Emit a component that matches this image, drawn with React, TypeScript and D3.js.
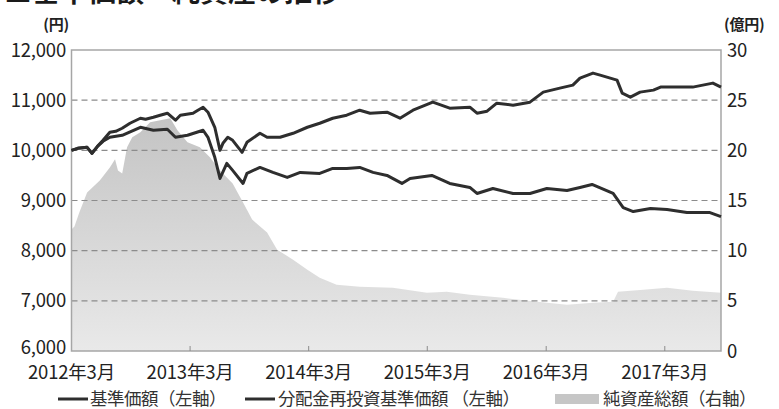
import { useRef, useEffect } from 'react';
import * as d3 from 'd3';

// 分配金再投資基準価額 (left axis, 円)
const reinvestDates = [
  '2012-03-01', '2012-03-20', '2012-04-18', '2012-05-03', '2012-05-20', '2012-06-06', '2012-06-27',
  '2012-07-15', '2012-08-04', '2012-08-28', '2012-09-29', '2012-10-15', '2012-11-08', '2012-11-29',
  '2012-12-21', '2013-01-15', '2013-01-30', '2013-03-10', '2013-03-25', '2013-04-10', '2013-04-25',
  '2013-05-16', '2013-06-01', '2013-06-10', '2013-06-25', '2013-07-10', '2013-08-08', '2013-08-23',
  '2013-10-02', '2013-10-24', '2013-12-03', '2014-01-12', '2014-02-25', '2014-04-04', '2014-05-14',
  '2014-06-26', '2014-08-05', '2014-09-06', '2014-10-28', '2014-12-07', '2015-01-16', '2015-03-18',
  '2015-05-09', '2015-07-10', '2015-08-01', '2015-09-01', '2015-10-01', '2015-11-20', '2016-01-11',
  '2016-02-21', '2016-04-12', '2016-05-22', '2016-06-13', '2016-07-23', '2016-08-14', '2016-10-05',
  '2016-10-21', '2016-11-15', '2016-12-15', '2017-01-25', '2017-02-16', '2017-04-08', '2017-05-26',
  '2017-07-27', '2017-08-21',
];
const reinvestValues = [
  10000, 10040, 10060, 9940, 10080, 10200, 10360,
  10380, 10440, 10540, 10640, 10620, 10660, 10700,
  10740, 10600, 10700, 10740, 10800, 10860, 10760,
  10460, 10000, 10140, 10260, 10200, 9960, 10160,
  10340, 10260, 10260, 10340, 10460, 10540, 10640,
  10700, 10800, 10740, 10760, 10640, 10800, 10960,
  10840, 10860, 10740, 10780, 10940, 10900, 10960,
  11160, 11240, 11300, 11440, 11540, 11500, 11400,
  11140, 11060, 11160, 11200, 11260, 11260, 11260,
  11340, 11260,
];

// 基準価額 (left axis, 円)
const navDates = [
  '2012-03-01', '2012-03-20', '2012-04-18', '2012-05-03', '2012-05-20', '2012-06-06', '2012-06-27',
  '2012-08-04', '2012-09-29', '2012-11-08', '2012-12-21', '2013-01-15', '2013-02-21', '2013-04-10',
  '2013-04-25', '2013-05-16', '2013-06-01', '2013-06-22', '2013-07-10', '2013-08-11', '2013-08-23',
  '2013-10-02', '2013-11-11', '2013-12-25', '2014-02-03', '2014-04-04', '2014-05-14', '2014-06-26',
  '2014-08-05', '2014-09-15', '2014-10-28', '2014-12-13', '2015-01-07', '2015-03-15', '2015-05-09',
  '2015-07-10', '2015-08-01', '2015-09-19', '2015-11-20', '2016-01-11', '2016-03-03', '2016-05-04',
  '2016-06-13', '2016-07-20', '2016-09-23', '2016-10-24', '2016-11-24', '2017-01-16', '2017-03-08',
  '2017-05-08', '2017-07-18', '2017-08-21',
];
const navValues = [
  10000, 10040, 10060, 9940, 10080, 10180, 10260,
  10300, 10460, 10400, 10420, 10260, 10300, 10400,
  10260, 9860, 9440, 9740, 9600, 9340, 9540,
  9660, 9560, 9460, 9560, 9540, 9640, 9640,
  9660, 9560, 9500, 9340, 9440, 9500, 9340,
  9260, 9140, 9240, 9140, 9140, 9240, 9200,
  9260, 9320, 9140, 8860, 8780, 8840, 8820,
  8760, 8760, 8680,
];

// 純資産総額 (right axis, 億円)
const assetDates = [
  '2012-03-01', '2012-03-10', '2012-03-25', '2012-04-18', '2012-05-27', '2012-06-27', '2012-07-13',
  '2012-07-22', '2012-08-04', '2012-08-19', '2012-09-04', '2012-09-29', '2012-10-29', '2012-11-29',
  '2012-12-30', '2013-01-21', '2013-02-21', '2013-03-31', '2013-05-01', '2013-06-01', '2013-07-10',
  '2013-08-11', '2013-09-08', '2013-10-24', '2013-11-24', '2014-01-12', '2014-02-25', '2014-04-04',
  '2014-05-26', '2014-08-05', '2014-11-15', '2015-02-28', '2015-04-30', '2015-07-10', '2015-10-20',
  '2016-02-02', '2016-05-04', '2016-07-23', '2016-09-23', '2016-10-08', '2016-12-25', '2017-03-08',
  '2017-05-26', '2017-08-21',
];
const assetValues = [
  12.1, 12.4, 13.8, 15.8, 17.0, 18.3, 19.1,
  18.0, 17.7, 20.3, 21.3, 21.8, 22.8, 23.0,
  23.2, 22.0, 20.8, 20.3, 19.3, 18.0, 16.7,
  14.8, 13.1, 11.8, 10.1, 9.1, 8.1, 7.3,
  6.6, 6.4, 6.3, 5.8, 5.9, 5.6, 5.3,
  4.9, 4.6, 4.8, 4.9, 5.9, 6.1, 6.3,
  6.0, 5.8,
];

const leftTicks = [6000, 7000, 8000, 9000, 10000, 11000, 12000];
const rightTicks = [0, 5, 10, 15, 20, 25, 30];
const xTickDates = ['2012-03-01', '2013-03-01', '2014-03-01', '2015-03-01', '2016-03-01', '2017-03-01'];
const xTickLabels = ['2012年3月', '2013年3月', '2014年3月', '2015年3月', '2016年3月', '2017年3月'];

const W = 779;
const H = 409;
const FONT = "'Noto Sans CJK JP', 'Noto Sans', sans-serif";

export default function App() {
  const svgRef = useRef<SVGSVGElement>(null);

  useEffect(() => {
    const svg = d3.select(svgRef.current);
    svg.selectAll('*').remove();

    const left = 71.5;
    const right = 721;
    const top = 50;
    const bottom = 351;
    const parse = d3.timeParse('%Y-%m-%d');

    const x = d3.scaleTime()
      .domain([parse('2012-03-01')!, parse('2017-08-21')!])
      .range([left, right]);
    const yL = d3.scaleLinear().domain([6000, 12000]).range([bottom, top]);
    const yR = d3.scaleLinear().domain([0, 30]).range([bottom, top]);

    const defs = svg.append('defs');
    const grad = defs.append('linearGradient')
      .attr('id', 'assetFill')
      .attr('gradientUnits', 'userSpaceOnUse')
      .attr('x1', 0).attr('x2', 0)
      .attr('y1', top).attr('y2', bottom);
    grad.append('stop').attr('offset', '0%').attr('stop-color', '#b9b9b9');
    grad.append('stop').attr('offset', '100%').attr('stop-color', '#e9e9e9');

    // Title (cut off at the top of the image)
    svg.append('text')
      .attr('x', 4)
      .attr('y', 2)
      .attr('font-size', 28)
      .attr('font-weight', 700)
      .attr('font-family', FONT)
      .attr('fill', '#1a1a1a')
      .text('■基準価額・純資産の推移');

    // Net assets area
    const assets = assetDates.map((d, i) => ({ date: parse(d)!, v: assetValues[i] }));
    svg.append('path')
      .datum(assets)
      .attr('fill', 'url(#assetFill)')
      .attr('d', d3.area<{ date: Date; v: number }>()
        .x((d) => x(d.date))
        .y0(bottom)
        .y1((d) => yR(d.v)));

    // Dashed grid lines
    svg.append('g')
      .selectAll('line')
      .data(leftTicks.filter((t) => t > 6000 && t < 12000))
      .join('line')
      .attr('x1', left)
      .attr('x2', right)
      .attr('y1', (d) => yL(d))
      .attr('y2', (d) => yL(d))
      .attr('stroke', '#8c8c8c')
      .attr('stroke-width', 1.2)
      .attr('stroke-dasharray', '6,4');

    // Frame
    svg.append('rect')
      .attr('x', left)
      .attr('y', top)
      .attr('width', right - left)
      .attr('height', bottom - top)
      .attr('fill', 'none')
      .attr('stroke', '#a6a6a6')
      .attr('stroke-width', 1.5);

    // X ticks
    svg.append('g')
      .selectAll('line')
      .data(xTickDates.slice(1))
      .join('line')
      .attr('x1', (d) => x(parse(d)!))
      .attr('x2', (d) => x(parse(d)!))
      .attr('y1', bottom)
      .attr('y2', bottom - 5)
      .attr('stroke', '#8c8c8c')
      .attr('stroke-width', 1);

    // Lines
    const line = d3.line<{ date: Date; v: number }>()
      .x((d) => x(d.date))
      .y((d) => yL(d.v))
      .curve(d3.curveLinear);

    const nav = navDates.map((d, i) => ({ date: parse(d)!, v: navValues[i] }));
    const reinvest = reinvestDates.map((d, i) => ({ date: parse(d)!, v: reinvestValues[i] }));
    [nav, reinvest].forEach((series) => {
      svg.append('path')
        .datum(series)
        .attr('fill', 'none')
        .attr('stroke', '#2e2e2e')
        .attr('stroke-width', 3)
        .attr('stroke-linejoin', 'round')
        .attr('d', line);
    });

    const labelStyle = (sel: d3.Selection<SVGTextElement, any, any, any>) =>
      sel
        .attr('font-family', FONT)
        .attr('font-size', 18.5)
        .attr('fill', '#222')
        .attr('letter-spacing', -0.2);

    // Left axis labels
    svg.append('g')
      .selectAll('text')
      .data(leftTicks)
      .join('text')
      .attr('x', 66)
      .attr('y', (d) => yL(d) - (d === 6000 ? 4 : 0))
      .attr('dy', '0.36em')
      .attr('text-anchor', 'end')
      .call(labelStyle)
      .text((d) => d3.format(',')(d));

    // Right axis labels
    svg.append('g')
      .selectAll('text')
      .data(rightTicks)
      .join('text')
      .attr('x', 727)
      .attr('y', (d) => yR(d))
      .attr('dy', '0.36em')
      .call(labelStyle)
      .text((d) => String(d));

    // Units
    svg.append('text')
      .attr('x', 69).attr('y', 30)
      .attr('text-anchor', 'end')
      .call(labelStyle)
      .attr('font-size', 15)
      .attr('font-weight', 700)
      .text('(円)');
    svg.append('text')
      .attr('x', 724).attr('y', 30)
      .call(labelStyle)
      .attr('font-size', 15)
      .attr('font-weight', 700)
      .text('(億円)');

    // X labels
    svg.append('g')
      .selectAll('text')
      .data(xTickDates)
      .join('text')
      .attr('x', (d) => x(parse(d)!))
      .attr('y', 379)
      .attr('text-anchor', 'middle')
      .call(labelStyle)
      .text((_d, i) => xTickLabels[i]);

    // Legend
    const ly = 399;
    const legend = svg.append('g');
    const legendText = (sel: d3.Selection<SVGTextElement, any, any, any>) =>
      sel.call(labelStyle).attr('font-size', 17.5).attr('fill', '#333').attr('letter-spacing', -0.5);
    legend.append('line')
      .attr('x1', 58).attr('x2', 88).attr('y1', ly).attr('y2', ly)
      .attr('stroke', '#2e2e2e').attr('stroke-width', 3);
    legend.append('text')
      .attr('x', 90).attr('y', ly).attr('dy', '0.36em')
      .call(legendText)
      .text('基準価額（左軸）');
    legend.append('line')
      .attr('x1', 245).attr('x2', 275).attr('y1', ly).attr('y2', ly)
      .attr('stroke', '#2e2e2e').attr('stroke-width', 3);
    legend.append('text')
      .attr('x', 278).attr('y', ly).attr('dy', '0.36em')
      .call(legendText)
      .text('分配金再投資基準価額 （左軸）');
    legend.append('rect')
      .attr('x', 555).attr('y', ly - 5).attr('width', 44).attr('height', 10)
      .attr('fill', '#c6c6c6');
    legend.append('text')
      .attr('x', 603).attr('y', ly).attr('dy', '0.36em')
      .call(legendText)
      .text('純資産総額（右軸）');
  }, []);

  return (
    <svg
      ref={svgRef}
      width={W}
      height={H}
      viewBox={`0 0 ${W} ${H}`}
      style={{ position: 'absolute', left: 0, top: 0, background: '#fff' }}
    />
  );
}
